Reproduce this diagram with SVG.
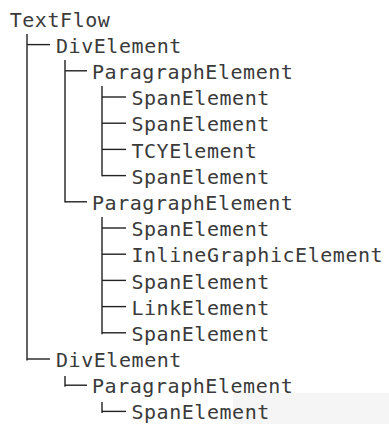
<svg xmlns="http://www.w3.org/2000/svg" width="389" height="424" viewBox="0 0 389 424">
<style>
.t{font-family:"DejaVu Sans Mono","Liberation Mono",monospace;font-size:20px;letter-spacing:0.55px;fill:#3a3a3a}
.c line{stroke:#222;stroke-width:1.4;fill:none}
</style>
<rect width="389" height="424" fill="#fff"/>
<rect x="233" y="393" width="156" height="31" fill="#f5f5f5"/>
<g class="c" id="connectors">
<line x1="27" y1="34" x2="27" y2="360.6"/>
<line x1="65" y1="60" x2="65" y2="202.4"/>
<line x1="65" y1="376" x2="65" y2="386.8"/>
<line x1="102" y1="86" x2="102" y2="176.2"/>
<line x1="102" y1="217" x2="102" y2="334.2"/>
<line x1="102" y1="402" x2="102" y2="413"/>
<line x1="27" y1="44.6" x2="50" y2="44.6"/>
<line x1="65" y1="70.8" x2="87" y2="70.8"/>
<line x1="102" y1="97" x2="126" y2="97"/>
<line x1="102" y1="123.2" x2="126" y2="123.2"/>
<line x1="102" y1="149.4" x2="126" y2="149.4"/>
<line x1="102" y1="175.6" x2="126" y2="175.6"/>
<line x1="65" y1="201.8" x2="87" y2="201.8"/>
<line x1="102" y1="228" x2="126" y2="228"/>
<line x1="102" y1="254.2" x2="126" y2="254.2"/>
<line x1="102" y1="280.4" x2="126" y2="280.4"/>
<line x1="102" y1="306.6" x2="126" y2="306.6"/>
<line x1="102" y1="332.8" x2="126" y2="332.8"/>
<line x1="27" y1="359" x2="50" y2="359"/>
<line x1="65" y1="385.2" x2="87" y2="385.2"/>
<line x1="102" y1="411.4" x2="126" y2="411.4"/>
</g>
<g id="n0"><text class="t" x="9.7" y="26.6">TextFlow</text></g>
<g id="n1"><text class="t" x="56" y="52.8">DivElement</text></g>
<g id="n2"><text class="t" x="92" y="79">ParagraphElement</text></g>
<g id="n3"><text class="t" x="131.4" y="105.2">SpanElement</text></g>
<g id="n4"><text class="t" x="131.4" y="131.4">SpanElement</text></g>
<g id="n5"><text class="t" x="131.4" y="157.6">TCYElement</text></g>
<g id="n6"><text class="t" x="131.4" y="183.8">SpanElement</text></g>
<g id="n7"><text class="t" x="92" y="210">ParagraphElement</text></g>
<g id="n8"><text class="t" x="131.4" y="236.2">SpanElement</text></g>
<g id="n9"><text class="t" x="131.4" y="262.4">InlineGraphicElement</text></g>
<g id="n10"><text class="t" x="131.4" y="288.6">SpanElement</text></g>
<g id="n11"><text class="t" x="131.4" y="314.8">LinkElement</text></g>
<g id="n12"><text class="t" x="131.4" y="341">SpanElement</text></g>
<g id="n13"><text class="t" x="56" y="367.2">DivElement</text></g>
<g id="n14"><text class="t" x="92" y="393.4">ParagraphElement</text></g>
<g id="n15"><text class="t" x="131.4" y="419.4">SpanElement</text></g>
</svg>
